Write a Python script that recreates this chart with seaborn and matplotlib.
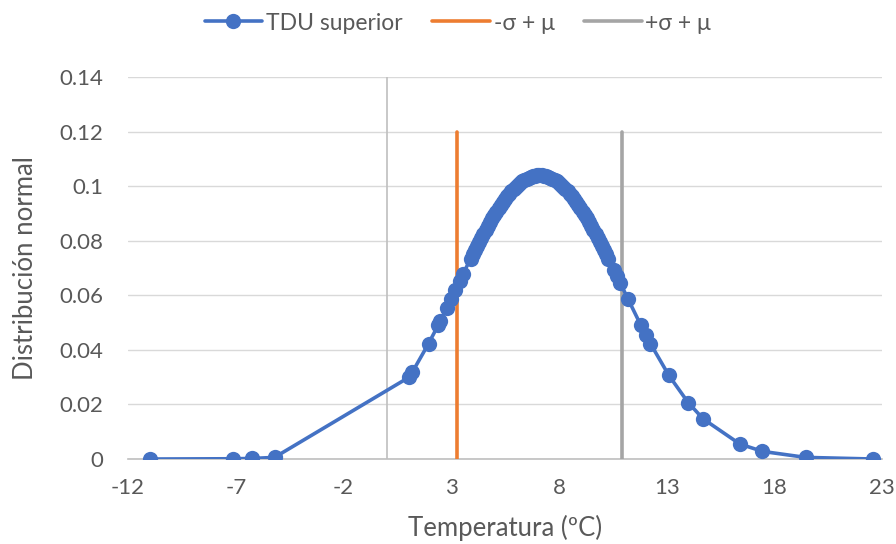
import matplotlib
matplotlib.use("Agg")
import matplotlib.pyplot as plt
import seaborn as sns
import pandas as pd

# Temperature (ºC) and normal density for the upper TDU series
temp = [-11.0, -7.15, -6.25, -5.2, 1.05, 1.2, 1.95, 2.4, 2.5, 2.8, 3.0, 3.2, 3.4, 3.55,
        3.9, 4.0, 4.1, 4.2, 4.3, 4.4, 4.5, 4.6, 4.7, 4.8, 4.9, 5.0, 5.1, 5.2, 5.3, 5.4,
        5.5, 5.6, 5.7, 5.8, 5.9, 6.0, 6.1, 6.2, 6.3, 6.4, 6.5, 6.6, 6.7, 6.8, 6.9, 7.0,
        7.1, 7.2, 7.3, 7.4, 7.5, 7.6, 7.7, 7.8, 7.9, 8.0, 8.1, 8.2, 8.3, 8.4, 8.5, 8.6,
        8.7, 8.8, 8.9, 9.0, 9.1, 9.2, 9.3, 9.4, 9.5, 9.6, 9.7, 9.8, 9.9, 10.0, 10.1,
        10.2, 10.3, 10.55, 10.7, 10.85, 11.2, 11.8, 12.05, 12.25, 13.1, 14.0, 14.7,
        16.4, 17.45, 19.45, 22.6]
density = [0.0000, 0.0001, 0.0002, 0.0006, 0.0300, 0.0319, 0.0423, 0.0491, 0.0507, 0.0555,
           0.0588, 0.0620, 0.0653, 0.0678,
           0.0734, 0.0750, 0.0766, 0.0781, 0.0796, 0.0811, 0.0826, 0.0841, 0.0855, 0.0868,
           0.0882, 0.0895, 0.0907, 0.0919, 0.0931, 0.0942, 0.0953, 0.0963, 0.0972, 0.0981,
           0.0989, 0.0997, 0.1004, 0.1011, 0.1017, 0.1022, 0.1026, 0.1030, 0.1033, 0.1036,
           0.1038, 0.1039, 0.1039, 0.1039, 0.1038, 0.1036, 0.1033, 0.1030, 0.1026, 0.1022,
           0.1017, 0.1011, 0.1004, 0.0997, 0.0989, 0.0981, 0.0972, 0.0963, 0.0953, 0.0942,
           0.0931, 0.0919, 0.0907, 0.0895, 0.0882, 0.0868, 0.0855, 0.0841, 0.0826, 0.0811,
           0.0796, 0.0781, 0.0766, 0.0750, 0.0734,
           0.0694, 0.0670, 0.0645, 0.0588, 0.0491, 0.0453, 0.0423, 0.0307, 0.0207, 0.0147,
           0.0055, 0.0028, 0.0006, 0.0000]

# Markers for mean minus / plus one standard deviation
sigma_lo_x = [3.27, 3.27]
sigma_hi_x = [10.93, 10.93]
sigma_y = [0.0, 0.12]

x_ticks = [-12, -7, -2, 3, 8, 13, 18, 23]
y_ticks = [0, 0.02, 0.04, 0.06, 0.08, 0.1, 0.12, 0.14]
y_tick_labels = ["0", "0.02", "0.04", "0.06", "0.08", "0.1", "0.12", "0.14"]

sns.set_theme(style="white")
plt.rcParams["font.family"] = ["Lato", "DejaVu Sans"]

BLUE = "#4472C4"
ORANGE = "#ED7D31"
GRAY = "#A5A5A5"
TEXT = "#595959"

fig = plt.figure(figsize=(8.96, 5.44), dpi=100)
ax = fig.add_axes([0.1429, 0.1562, 0.8415, 0.7023])

df = pd.DataFrame({"temp": temp, "density": density})
sns.lineplot(data=df, x="temp", y="density", ax=ax, sort=False, estimator=None,
             color=BLUE, linewidth=2.6, marker="o", markersize=11,
             markeredgewidth=0, label="TDU superior", zorder=4)
sns.lineplot(x=sigma_lo_x, y=sigma_y, ax=ax, sort=False, estimator=None,
             color=ORANGE, linewidth=2.6, label="-σ + μ", zorder=3)
sns.lineplot(x=sigma_hi_x, y=sigma_y, ax=ax, sort=False, estimator=None,
             color=GRAY, linewidth=2.6, label="+σ + μ", zorder=3)

ax.set_xlim(-12, 23)
ax.set_ylim(0, 0.14)
ax.set_xticks(x_ticks)
ax.set_xticklabels([str(t) for t in x_ticks])
ax.set_yticks(y_ticks)
ax.set_yticklabels(y_tick_labels)

ax.grid(axis="y", color="#D9D9D9", linewidth=1)
ax.axvline(0, color="#BFBFBF", linewidth=1.2, zorder=1)
for side in ["top", "right", "left"]:
    ax.spines[side].set_visible(False)
ax.spines["bottom"].set_color("#BFBFBF")
ax.spines["bottom"].set_linewidth(1.2)
ax.spines["bottom"].set_zorder(1)
ax.tick_params(axis="both", length=0, labelsize=16, labelcolor=TEXT)
ax.tick_params(axis="x", pad=14)
ax.tick_params(axis="y", pad=18)

ax.set_xlabel("Temperatura (ºC)", fontsize=18.5, color=TEXT)
ax.set_ylabel("Distribución normal", fontsize=18.5, color=TEXT)
ax.xaxis.set_label_coords(0.5, -0.1806, transform=ax.transAxes)
ax.xaxis.label.set_va("center")
ax.yaxis.set_label_coords(-0.1366, 0.5, transform=ax.transAxes)
ax.yaxis.label.set_va("center")

leg = ax.legend(loc="center", bbox_to_anchor=(458 / 896, 1 - 23 / 544),
                bbox_transform=fig.transFigure, ncol=3, frameon=False,
                fontsize=16.5, handlelength=2.5, columnspacing=1.3, handletextpad=0.17)
for t in leg.get_texts():
    t.set_color(TEXT)

fig.savefig("out.png", dpi=100, facecolor="white")
